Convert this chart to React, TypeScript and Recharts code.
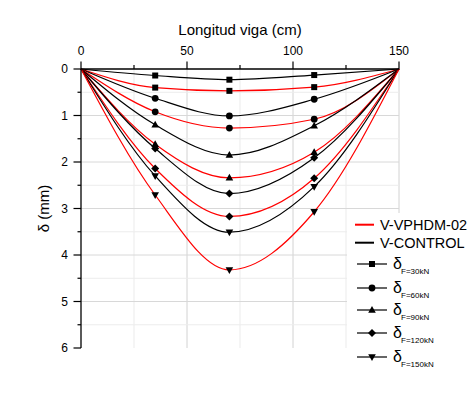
import React from 'react';
import { LineChart, Line, XAxis, YAxis, ReferenceLine, Legend } from 'recharts';

// Positions along the beam (cm)
const positions = [0, 35, 70, 110, 150];
// Load levels (kN)
const loads = ['30', '60', '90', '120', '150'];
const markerShapes = ['square', 'circle', 'triangle', 'diamond', 'down'];

// Deflections (mm) – V-CONTROL
const control30 = [0, 0.14, 0.23, 0.13, 0];
const control60 = [0, 0.63, 1.01, 0.65, 0];
const control90 = [0, 1.2, 1.85, 1.22, 0];
const control120 = [0, 1.71, 2.68, 1.91, 0];
const control150 = [0, 2.3, 3.51, 2.53, 0];

// Deflections (mm) – V-VPHDM-02
const vphdm30 = [0, 0.4, 0.47, 0.39, 0];
const vphdm60 = [0, 0.92, 1.27, 1.08, 0];
const vphdm90 = [0, 1.62, 2.34, 1.79, 0];
const vphdm120 = [0, 2.14, 3.17, 2.35, 0];
const vphdm150 = [0, 2.71, 4.32, 3.07, 0];

const controlSeries = [control30, control60, control90, control120, control150];
const vphdmSeries = [vphdm30, vphdm60, vphdm90, vphdm120, vphdm150];

const seriesNames = ['V-VPHDM-02', 'V-CONTROL'];
const seriesColors = ['#ff0000', '#000000'];

const xTicks = [0, 25, 50, 75, 100, 125, 150];
const xMajor = [0, 50, 100, 150];
const yTicks = [0, 0.5, 1, 1.5, 2, 2.5, 3, 3.5, 4, 4.5, 5, 5.5, 6];
const yMajor = [0, 1, 2, 3, 4, 5, 6];

const xTitle = 'Longitud viga (cm)';
const yTitle = 'δ (mm)';

const data = positions.map((x, i) => {
  const row: Record<string, number> = { x };
  loads.forEach((l, j) => {
    row['r' + l] = vphdmSeries[j][i];
    row['c' + l] = controlSeries[j][i];
  });
  return row;
});

const FONT = '"Liberation Sans", Arial, sans-serif';

const Marker = ({ shape, cx, cy }: { shape: string; cx: number; cy: number }) => {
  const s = 3;
  switch (shape) {
    case 'square':
      return <rect x={cx - s} y={cy - s} width={2 * s} height={2 * s} fill="#000" />;
    case 'circle':
      return <circle cx={cx} cy={cy} r={s + 0.4} fill="#000" />;
    case 'triangle':
      return (
        <polygon
          points={`${cx},${cy - s - 1} ${cx - s - 0.8},${cy + s - 0.3} ${cx + s + 0.8},${cy + s - 0.3}`}
          fill="#000"
        />
      );
    case 'diamond':
      return (
        <polygon
          points={`${cx},${cy - s - 1} ${cx + s + 1},${cy} ${cx},${cy + s + 1} ${cx - s - 1},${cy}`}
          fill="#000"
        />
      );
    default:
      return (
        <polygon
          points={`${cx},${cy + s + 1} ${cx - s - 0.8},${cy - s + 0.3} ${cx + s + 0.8},${cy - s + 0.3}`}
          fill="#000"
        />
      );
  }
};

const makeDot = (shape: string, tag: string) => (props: any) => {
  const { cx, cy, index } = props;
  const k = `${tag}-${index}`;
  if (index === 0 || index === positions.length - 1 || cx == null || cy == null) return <g key={k} />;
  return (
    <g key={k}>
      <Marker shape={shape} cx={cx} cy={cy} />
    </g>
  );
};

const X_TS = 7;
const X_TM = 3;
const XTick = (props: any) => {
  const { x, y, payload } = props;
  const axisY = y + X_TS + X_TM;
  const major = xMajor.includes(payload.value);
  return (
    <g>
      <line x1={x} x2={x} y1={axisY} y2={axisY - (major ? 7.5 : 4)} stroke="#000" strokeWidth={1.2} />
      {major && (
        <text x={x} y={axisY - 14.5} textAnchor="middle" fontSize={12} fill="#000" fontFamily={FONT}>
          {payload.value}
        </text>
      )}
    </g>
  );
};

const Y_TS = 7;
const Y_TM = 6;
const YTick = (props: any) => {
  const { x, y, payload } = props;
  const axisX = x + Y_TS + Y_TM;
  const major = yMajor.includes(payload.value);
  return (
    <g>
      <line x1={axisX} x2={axisX - (major ? 7.5 : 3.5)} y1={y} y2={y} stroke="#000" strokeWidth={1.2} />
      {major && (
        <text x={axisX - 13} y={y} dy="0.36em" textAnchor="end" fontSize={12} fill="#000" fontFamily={FONT}>
          {payload.value}
        </text>
      )}
    </g>
  );
};

const XTitle = (props: any) => {
  const vb = props.viewBox || { x: 81, y: 0, width: 318, height: 69 };
  return (
    <text x={vb.x + vb.width / 2} y={vb.y + 35} textAnchor="middle" fontSize={15} fill="#000" fontFamily={FONT}>
      {xTitle}
    </text>
  );
};

const YTitle = (props: any) => {
  const vb = props.viewBox || { x: 0, y: 69, width: 81, height: 279 };
  const cx = vb.x + 44;
  const cy = vb.y + vb.height / 2;
  return (
    <text
      x={cx}
      y={cy}
      dy="0.35em"
      transform={`rotate(-90, ${cx}, ${cy})`}
      textAnchor="middle"
      fontSize={15}
      fill="#000"
      fontFamily={FONT}
    >
      {yTitle}
    </text>
  );
};

const LegendBox = () => {
  const rowY = [51, 75, 97, 120, 144];
  return (
    <svg width={127} height={165} style={{ display: 'block' }}>
      {seriesNames.map((n, i) => (
        <g key={n}>
          <line x1={8} x2={27} y1={11.7 + i * 18} y2={11.7 + i * 18} stroke={seriesColors[i]} strokeWidth={2} />
          <text x={33} y={17 + i * 18} fontSize={14.5} fill="#000" fontFamily={FONT}>
            {n}
          </text>
        </g>
      ))}
      {loads.map((l, i) => (
        <g key={l}>
          <line x1={10} x2={40} y1={rowY[i]} y2={rowY[i]} stroke="#000" strokeWidth={1.2} />
          <Marker shape={markerShapes[i]} cx={25} cy={rowY[i]} />
          <text x={46} y={rowY[i] + 5} fontSize={16} fill="#000" fontFamily={FONT}>
            δ
          </text>
          <text x={54} y={rowY[i] + 10} fontSize={8} fill="#000" fontFamily={FONT}>
            {`F=${l}kN`}
          </text>
        </g>
      ))}
    </svg>
  );
};

export default function App() {
  return (
    <div style={{ position: 'absolute', left: 0, top: 0, width: 474, height: 395, background: '#fff', fontFamily: FONT }}>
      <LineChart width={474} height={395} data={data} margin={{ top: 0, right: 75, bottom: 47, left: 0 }}>
        <XAxis
          dataKey="x"
          type="number"
          domain={[0, 150]}
          ticks={xTicks}
          interval={0}
          orientation="top"
          height={69}
          tickSize={X_TS}
          tickMargin={X_TM}
          tickLine={false}
          tick={(p: any) => <XTick {...p} />}
          axisLine={{ stroke: '#000', strokeWidth: 1.3 }}
          label={{ content: (p: any) => <XTitle {...p} /> }}
        />
        <YAxis
          type="number"
          domain={[0, 6]}
          reversed
          ticks={yTicks}
          interval={0}
          width={81}
          tickSize={Y_TS}
          tickMargin={Y_TM}
          tickLine={false}
          tick={(p: any) => <YTick {...p} />}
          axisLine={{ stroke: '#000', strokeWidth: 1.3 }}
          label={{ content: (p: any) => <YTitle {...p} /> }}
        />
        {xTicks.slice(1).map((t) => (
          <ReferenceLine
            key={'vx' + t}
            x={t}
            stroke={xMajor.includes(t) ? '#d2d2d2' : '#ebebeb'}
            strokeWidth={1}
          />
        ))}
        {yTicks.slice(1, -1).map((t) => (
          <ReferenceLine
            key={'hy' + t}
            y={t}
            stroke={yMajor.includes(t) ? '#d8d8d8' : '#ececec'}
            strokeWidth={1}
          />
        ))}
        {loads.map((l, j) => [
          <Line
            key={'c' + l}
            dataKey={'c' + l}
            type="monotone"
            stroke="#000"
            strokeWidth={1.2}
            dot={makeDot(markerShapes[j], 'c' + l)}
            activeDot={false}
            isAnimationActive={false}
            legendType="none"
          />,
          <Line
            key={'r' + l}
            dataKey={'r' + l}
            type="monotone"
            stroke="#ff0000"
            strokeWidth={1.2}
            dot={makeDot(markerShapes[j], 'r' + l)}
            activeDot={false}
            isAnimationActive={false}
            legendType="none"
          />,
        ])}
        <Legend
          layout="vertical"
          align="center"
          verticalAlign="middle"
          content={() => <LegendBox />}
          wrapperStyle={{ left: 347, top: 213, width: 127, height: 165, background: '#fff' }}
        />
      </LineChart>
    </div>
  );
}
